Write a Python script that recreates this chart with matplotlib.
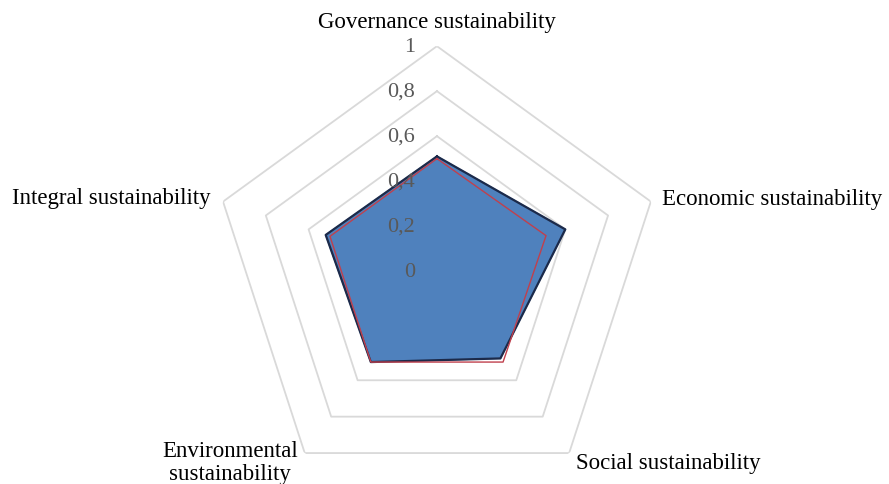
import numpy as np
import matplotlib.pyplot as plt

categories = ['Governance sustainability', 'Economic sustainability', 'Social sustainability',
              'Environmental\nsustainability', 'Integral sustainability']
series_blue = [0.51, 0.60, 0.48, 0.50, 0.52]
series_red = [0.50, 0.51, 0.50, 0.50, 0.50]
levels = [0.2, 0.4, 0.6, 0.8, 1.0]
level_labels = ['0,2', '0,4', '0,6', '0,8', '1']

plt.rcParams['font.family'] = ['Liberation Serif', 'DejaVu Serif']

n = len(categories)
angles = np.linspace(0, 2 * np.pi, n, endpoint=False)
closed = np.append(angles, angles[0])

fig = plt.figure(figsize=(8.89, 4.85), dpi=100)
ax = fig.add_axes([0.2385, -0.025, 0.506, 0.928], projection='polar')
ax.set_theta_offset(np.pi / 2)
ax.set_theta_direction(-1)
ax.set_ylim(0, 1)
ax.grid(False)
ax.spines['polar'].set_visible(False)
ax.set_xticks([])
ax.set_yticks([])
ax.patch.set_alpha(0)

# pentagon gridlines
for lv in levels:
    ax.plot(closed, [lv] * (n + 1), color='#D9D9D9', lw=1.3, zorder=1)

# series
blue_closed = series_blue + series_blue[:1]
red_closed = series_red + series_red[:1]
ax.fill(closed, blue_closed, color='#4F81BD', zorder=2)
ax.plot(closed, blue_closed, color='#1C2A4A', lw=1.6, zorder=3)
ax.plot(closed, red_closed, color='#C0404D', lw=1.0, zorder=4)

# radial labels
for lv, lab in zip([0.0] + levels, ['0'] + level_labels):
    ax.annotate(lab, xy=(0, lv), xytext=(-22, 0), textcoords='offset pixels',
                ha='right', va='center', fontsize=16, color='#595959', zorder=5)

# category labels
fs = 16.5
ax.text(angles[0], 1.11, categories[0], ha='center', va='center', fontsize=fs)
ax.text(angles[1], 1.05, categories[1], ha='left', va='center', fontsize=fs)
ax.text(angles[2], 1.05, categories[2], ha='left', va='center', fontsize=fs)
ax.text(angles[3], 1.05, categories[3], ha='right', va='center', fontsize=fs,
        multialignment='center', linespacing=1.1)
ax.text(angles[4], 1.06, categories[4], ha='right', va='center', fontsize=fs)

plt.savefig('out.png', dpi=100)
plt.close()
